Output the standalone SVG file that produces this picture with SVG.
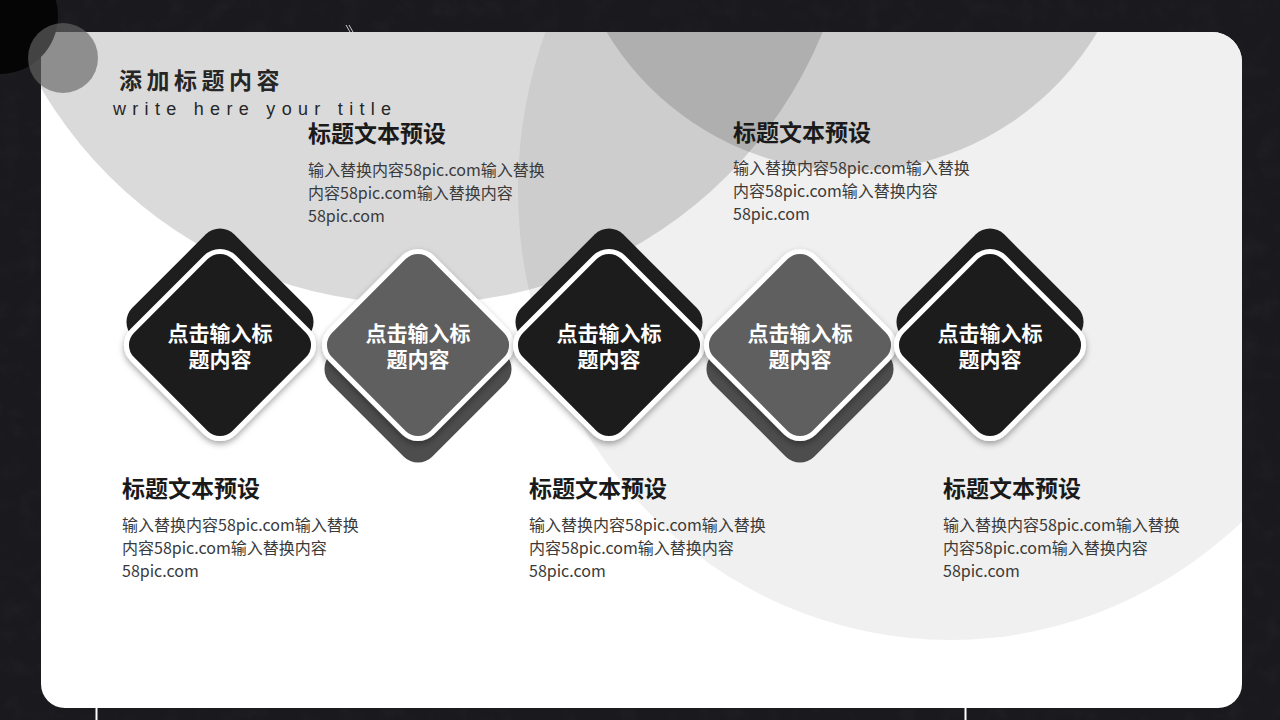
<svg xmlns="http://www.w3.org/2000/svg" width="1280" height="720" viewBox="0 0 1280 720">
  <defs>
    <clipPath id="cardClip">
      <path d="M41,32 H1212 A30,30 0 0 1 1242,62 V684 A24,24 0 0 1 1218,708 H65 A24,24 0 0 1 41,684 Z"/>
    </clipPath>
    <filter id="shadow" x="-30%" y="-30%" width="160%" height="160%">
      <feDropShadow dx="0" dy="3" stdDeviation="3" flood-color="#000" flood-opacity="0.35"/>
    </filter>
    <filter id="grain" x="0" y="0" width="100%" height="100%">
      <feTurbulence type="fractalNoise" baseFrequency="0.05" numOctaves="4" seed="3" result="n"/>
      <feColorMatrix in="n" type="matrix" values="0 0 0 0 1  0 0 0 0 1  0 0 0 0 1  0.5 0.5 0 0 -0.45" result="a"/>
      <feComposite in="a" in2="SourceGraphic" operator="in"/>
    </filter>
    <rect id="dia" x="-72" y="-72" width="144" height="144" rx="20" ry="20" transform="rotate(45)"/>
  </defs>
  <style>
    .bg { fill: #1a1a1e; }
    .card { fill: #ffffff; }
    .shade { fill: #000000; fill-opacity: 0.145; }
    .pale { fill: #f0f0f0; }
    .front { stroke: #ffffff; stroke-width: 5; }
    .dark { fill: #1c1c1c; }
    .darkBack { fill: #1e1e1e; }
    .grey { fill: #5e5e5e; }
    .greyBack { fill: #4d4d4d; }
    .dtext { font-family: "Noto Sans CJK SC", "Noto Sans", sans-serif; font-weight: 700; font-size: 21px; fill: #ffffff; text-anchor: middle; }
    .ttl { font-family: "Noto Sans CJK SC", "Noto Sans", sans-serif; font-weight: 700; font-size: 23px; fill: #1a1a1a; }
    .body { font-family: "Noto Sans CJK SC", "Noto Sans", sans-serif; font-size: 16px; fill: #3a3a3a; }
    .head { font-family: "Noto Sans CJK SC", "Noto Sans", sans-serif; font-weight: 700; font-size: 23px; fill: #262626; letter-spacing: 4.5px; }
    .sub { font-family: "Liberation Sans", "DejaVu Sans", sans-serif; font-size: 18px; fill: #262626; letter-spacing: 6.3px; }
  </style>

  <rect class="bg" x="0" y="0" width="1280" height="720"/>
  <rect x="0" y="0" width="1280" height="720" fill="#ffffff" filter="url(#grain)" opacity="0.06"/>
  <!-- small decorative marks -->
  <path d="M346,25 L350,32 M349,25 L353,32" stroke="#cccccc" stroke-width="1" fill="none"/>
  <line x1="96.5" y1="708" x2="96.5" y2="720" stroke="#ffffff" stroke-width="2"/>
  <line x1="965.5" y1="708" x2="965.5" y2="720" stroke="#ffffff" stroke-width="2"/>

  <g id="card">
    <path class="card" d="M41,32 H1212 A30,30 0 0 1 1242,62 V684 A24,24 0 0 1 1218,708 H65 A24,24 0 0 1 41,684 Z"/>
    <g clip-path="url(#cardClip)">
      <ellipse class="pale" cx="950" cy="190" rx="432" ry="450"/>
      <circle class="shade" cx="418" cy="-133" r="437"/>
      <circle class="shade" cx="852" cy="-115" r="286"/>
    </g>
  </g>

  <g id="corner-circles">
    <circle cx="0" cy="16" r="58" fill="#050505"/>
    <circle cx="63" cy="58" r="35" fill="#666666" fill-opacity="0.65"/>
  </g>

  <g id="header">
    <text class="head" x="119" y="89">添加标题内容</text>
    <text class="sub" x="113" y="115">write here your title</text>
  </g>

  <g id="connectors"></g>

  <g id="node1">
    <use href="#dia" class="darkBack" transform="translate(220,322)"/>
    <use href="#dia" class="dark front" filter="url(#shadow)" transform="translate(220,345)"/>
    <text class="dtext" x="220" y="341">点击输入标</text>
    <text class="dtext" x="220" y="367">题内容</text>
  </g>
  <g id="node2">
    <use href="#dia" class="greyBack" transform="translate(418,369)"/>
    <use href="#dia" class="grey front" filter="url(#shadow)" transform="translate(418,345)"/>
    <text class="dtext" x="418" y="341">点击输入标</text>
    <text class="dtext" x="418" y="367">题内容</text>
  </g>
  <g id="node3">
    <use href="#dia" class="darkBack" transform="translate(609,322)"/>
    <use href="#dia" class="dark front" filter="url(#shadow)" transform="translate(609,345)"/>
    <text class="dtext" x="609" y="341">点击输入标</text>
    <text class="dtext" x="609" y="367">题内容</text>
  </g>
  <g id="node4">
    <use href="#dia" class="greyBack" transform="translate(800,369)"/>
    <use href="#dia" class="grey front" filter="url(#shadow)" transform="translate(800,345)"/>
    <text class="dtext" x="800" y="341">点击输入标</text>
    <text class="dtext" x="800" y="367">题内容</text>
  </g>
  <g id="node5">
    <use href="#dia" class="darkBack" transform="translate(990,322)"/>
    <use href="#dia" class="dark front" filter="url(#shadow)" transform="translate(990,345)"/>
    <text class="dtext" x="990" y="341">点击输入标</text>
    <text class="dtext" x="990" y="367">题内容</text>
  </g>

  <g id="text-top-1">
    <text class="ttl" x="308" y="142">标题文本预设</text>
    <text class="body" x="308" y="176">输入替换内容58pic.com输入替换</text>
    <text class="body" x="308" y="199">内容58pic.com输入替换内容</text>
    <text class="body" x="308" y="222">58pic.com</text>
  </g>
  <g id="text-top-2">
    <text class="ttl" x="733" y="141">标题文本预设</text>
    <text class="body" x="733" y="174">输入替换内容58pic.com输入替换</text>
    <text class="body" x="733" y="197">内容58pic.com输入替换内容</text>
    <text class="body" x="733" y="220">58pic.com</text>
  </g>
  <g id="text-bottom-1">
    <text class="ttl" x="122" y="497">标题文本预设</text>
    <text class="body" x="122" y="531">输入替换内容58pic.com输入替换</text>
    <text class="body" x="122" y="554">内容58pic.com输入替换内容</text>
    <text class="body" x="122" y="577">58pic.com</text>
  </g>
  <g id="text-bottom-2">
    <text class="ttl" x="529" y="497">标题文本预设</text>
    <text class="body" x="529" y="531">输入替换内容58pic.com输入替换</text>
    <text class="body" x="529" y="554">内容58pic.com输入替换内容</text>
    <text class="body" x="529" y="577">58pic.com</text>
  </g>
  <g id="text-bottom-3">
    <text class="ttl" x="943" y="497">标题文本预设</text>
    <text class="body" x="943" y="531">输入替换内容58pic.com输入替换</text>
    <text class="body" x="943" y="554">内容58pic.com输入替换内容</text>
    <text class="body" x="943" y="577">58pic.com</text>
  </g>
</svg>
